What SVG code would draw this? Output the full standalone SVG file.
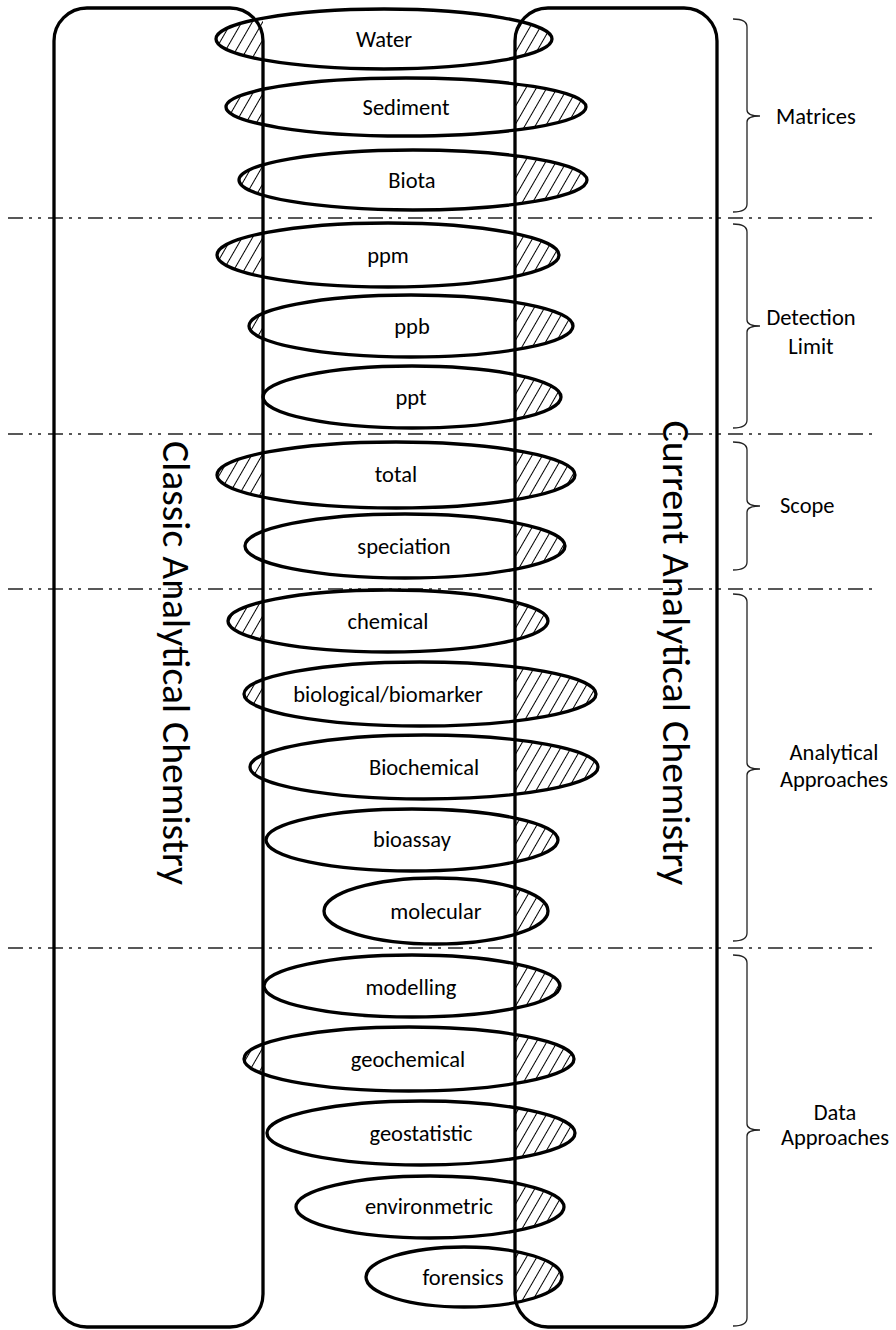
<svg xmlns="http://www.w3.org/2000/svg" width="896" height="1330" viewBox="0 0 896 1330">
  <style>
    .frame { fill: none; stroke: #000; stroke-width: 3.3; }
    .ring { fill: none; stroke: #000; stroke-width: 3.3; }
    .hatch { fill: url(#hatch); stroke: none; }
    .label { font-family: Carlito, Lato, "Liberation Sans", sans-serif; font-size: 22.5px; fill: #000; text-anchor: middle; dominant-baseline: central; }
    .side { font-family: Carlito, Lato, "Liberation Sans", sans-serif; font-size: 22.5px; fill: #000; dominant-baseline: central; }
    .title { font-family: Carlito, Lato, "Liberation Sans", sans-serif; font-weight: 300; font-size: 38px; fill: #000; text-anchor: middle; }
    .sep { fill: none; stroke: #222; stroke-width: 1.6; stroke-dasharray: 15 6 3 6 3 7; }
    .brace { fill: none; stroke: #222; stroke-width: 1.3; }
  </style>
  <defs>
    <pattern id="hatch" width="9" height="9" patternUnits="userSpaceOnUse" patternTransform="rotate(30)">
      <line x1="4.5" y1="0" x2="4.5" y2="9" stroke="#000" stroke-width="1"/>
    </pattern>
    <clipPath id="clip-left"><rect x="0" y="0" width="263" height="1330"/></clipPath>
    <clipPath id="clip-right"><rect x="515" y="0" width="381" height="1330"/></clipPath>
  </defs>
  <rect width="896" height="1330" fill="#fff"/>

  <!-- section separators -->
  <g id="separators">
    <line class="sep" x1="8" y1="218" x2="872" y2="218"/>
    <line class="sep" x1="8" y1="434" x2="872" y2="434"/>
    <line class="sep" x1="8" y1="589" x2="872" y2="589"/>
    <line class="sep" x1="8" y1="948" x2="872" y2="948"/>
  </g>

  <!-- the two columns -->
  <g id="classic">
    <rect class="frame" x="54" y="8" width="209" height="1319" rx="33"/>
    <text class="title" transform="translate(163,663) rotate(90)" textLength="444" lengthAdjust="spacingAndGlyphs">Classic Analytical Chemistry</text>
  </g>
  <g id="current">
    <rect class="frame" x="515" y="8" width="202" height="1319" rx="33"/>
    <text class="title" transform="translate(663,653) rotate(90)" textLength="465" lengthAdjust="spacingAndGlyphs">Current Analytical Chemistry</text>
  </g>

  <!-- topics: hatched parts lie outside the left column and inside the right column -->
  <g id="water">
    <ellipse class="hatch" clip-path="url(#clip-left)" cx="384" cy="39" rx="168" ry="30"/>
    <ellipse class="hatch" clip-path="url(#clip-right)" cx="384" cy="39" rx="168" ry="30"/>
    <ellipse class="ring" cx="384" cy="39" rx="168" ry="30"/>
    <text class="label" x="384" y="39">Water</text>
  </g>
  <g id="sediment">
    <ellipse class="hatch" clip-path="url(#clip-left)" cx="406" cy="107" rx="180" ry="29"/>
    <ellipse class="hatch" clip-path="url(#clip-right)" cx="406" cy="107" rx="180" ry="29"/>
    <ellipse class="ring" cx="406" cy="107" rx="180" ry="29"/>
    <text class="label" x="406" y="107">Sediment</text>
  </g>
  <g id="biota">
    <ellipse class="hatch" clip-path="url(#clip-left)" cx="413" cy="180" rx="174" ry="30"/>
    <ellipse class="hatch" clip-path="url(#clip-right)" cx="413" cy="180" rx="174" ry="30"/>
    <ellipse class="ring" cx="413" cy="180" rx="174" ry="30"/>
    <text class="label" x="412" y="180">Biota</text>
  </g>
  <g id="ppm">
    <ellipse class="hatch" clip-path="url(#clip-left)" cx="388" cy="255" rx="171" ry="32"/>
    <ellipse class="hatch" clip-path="url(#clip-right)" cx="388" cy="255" rx="171" ry="32"/>
    <ellipse class="ring" cx="388" cy="255" rx="171" ry="32"/>
    <text class="label" x="388" y="255">ppm</text>
  </g>
  <g id="ppb">
    <ellipse class="hatch" clip-path="url(#clip-left)" cx="411" cy="326" rx="162" ry="31"/>
    <ellipse class="hatch" clip-path="url(#clip-right)" cx="411" cy="326" rx="162" ry="31"/>
    <ellipse class="ring" cx="411" cy="326" rx="162" ry="31"/>
    <text class="label" x="412" y="326">ppb</text>
  </g>
  <g id="ppt">
    <ellipse class="hatch" clip-path="url(#clip-right)" cx="412" cy="397" rx="149" ry="31"/>
    <ellipse class="ring" cx="412" cy="397" rx="149" ry="31"/>
    <text class="label" x="411" y="397">ppt</text>
  </g>
  <g id="total">
    <ellipse class="hatch" clip-path="url(#clip-left)" cx="396" cy="475" rx="179" ry="33"/>
    <ellipse class="hatch" clip-path="url(#clip-right)" cx="396" cy="475" rx="179" ry="33"/>
    <ellipse class="ring" cx="396" cy="475" rx="179" ry="33"/>
    <text class="label" x="396" y="474">total</text>
  </g>
  <g id="speciation">
    <ellipse class="hatch" clip-path="url(#clip-right)" cx="405" cy="546" rx="160" ry="32"/>
    <ellipse class="ring" cx="405" cy="546" rx="160" ry="32"/>
    <text class="label" x="404" y="546">speciation</text>
  </g>
  <g id="chemical">
    <ellipse class="hatch" clip-path="url(#clip-left)" cx="388" cy="621" rx="160" ry="31"/>
    <ellipse class="hatch" clip-path="url(#clip-right)" cx="388" cy="621" rx="160" ry="31"/>
    <ellipse class="ring" cx="388" cy="621" rx="160" ry="31"/>
    <text class="label" x="388" y="621">chemical</text>
  </g>
  <g id="biological">
    <ellipse class="hatch" clip-path="url(#clip-left)" cx="420" cy="694" rx="176" ry="32"/>
    <ellipse class="hatch" clip-path="url(#clip-right)" cx="420" cy="694" rx="176" ry="32"/>
    <ellipse class="ring" cx="420" cy="694" rx="176" ry="32"/>
    <text class="label" x="388" y="694">biological/biomarker</text>
  </g>
  <g id="biochemical">
    <ellipse class="hatch" clip-path="url(#clip-left)" cx="424" cy="767" rx="174" ry="32"/>
    <ellipse class="hatch" clip-path="url(#clip-right)" cx="424" cy="767" rx="174" ry="32"/>
    <ellipse class="ring" cx="424" cy="767" rx="174" ry="32"/>
    <text class="label" x="424" y="767">Biochemical</text>
  </g>
  <g id="bioassay">
    <ellipse class="hatch" clip-path="url(#clip-right)" cx="412" cy="840" rx="146" ry="31"/>
    <ellipse class="ring" cx="412" cy="840" rx="146" ry="31"/>
    <text class="label" x="412" y="839">bioassay</text>
  </g>
  <g id="molecular">
    <ellipse class="hatch" clip-path="url(#clip-right)" cx="436" cy="911" rx="112" ry="33"/>
    <ellipse class="ring" cx="436" cy="911" rx="112" ry="33"/>
    <text class="label" x="436" y="911">molecular</text>
  </g>
  <g id="modelling">
    <ellipse class="hatch" clip-path="url(#clip-right)" cx="412" cy="986" rx="148" ry="31"/>
    <ellipse class="ring" cx="412" cy="986" rx="148" ry="31"/>
    <text class="label" x="411" y="987">modelling</text>
  </g>
  <g id="geochemical">
    <ellipse class="hatch" clip-path="url(#clip-left)" cx="409" cy="1059" rx="165" ry="32"/>
    <ellipse class="hatch" clip-path="url(#clip-right)" cx="409" cy="1059" rx="165" ry="32"/>
    <ellipse class="ring" cx="409" cy="1059" rx="165" ry="32"/>
    <text class="label" x="408" y="1059">geochemical</text>
  </g>
  <g id="geostatistic">
    <ellipse class="hatch" clip-path="url(#clip-right)" cx="421" cy="1133" rx="154" ry="32"/>
    <ellipse class="ring" cx="421" cy="1133" rx="154" ry="32"/>
    <text class="label" x="421" y="1133">geostatistic</text>
  </g>
  <g id="environmetric">
    <ellipse class="hatch" clip-path="url(#clip-right)" cx="430" cy="1207" rx="134" ry="31"/>
    <ellipse class="ring" cx="430" cy="1207" rx="134" ry="31"/>
    <text class="label" x="429" y="1206">environmetric</text>
  </g>
  <g id="forensics">
    <ellipse class="hatch" clip-path="url(#clip-right)" cx="464" cy="1277" rx="98" ry="30"/>
    <ellipse class="ring" cx="464" cy="1277" rx="98" ry="30"/>
    <text class="label" x="463" y="1277">forensics</text>
  </g>

  <!-- category braces -->
  <g id="matrices">
    <path class="brace" d="M733,19 Q747,19 747,27 L747,110 Q747,116 760,116 Q747,116 747,122 L747,204 Q747,212 733,212"/>
    <text class="side" x="776" y="116">Matrices</text>
  </g>
  <g id="detection-limit">
    <path class="brace" d="M733,224 Q747,224 747,232 L747,320 Q747,326 760,326 Q747,326 747,332 L747,420 Q747,428 733,428"/>
    <text class="label" x="811" y="317">Detection</text>
    <text class="label" x="811" y="346">Limit</text>
  </g>
  <g id="scope">
    <path class="brace" d="M733,442 Q747,442 747,450 L747,500 Q747,506 760,506 Q747,506 747,512 L747,562 Q747,570 733,570"/>
    <text class="side" x="780" y="505">Scope</text>
  </g>
  <g id="analytical-approaches">
    <path class="brace" d="M733,594 Q747,594 747,602 L747,763 Q747,769 760,769 Q747,769 747,775 L747,933 Q747,941 733,941"/>
    <text class="label" x="834" y="752">Analytical</text>
    <text class="label" x="834" y="779">Approaches</text>
  </g>
  <g id="data-approaches">
    <path class="brace" d="M733,955 Q747,955 747,963 L747,1124 Q747,1130 760,1130 Q747,1130 747,1136 L747,1318 Q747,1326 733,1326"/>
    <text class="label" x="835" y="1112">Data</text>
    <text class="label" x="835" y="1137">Approaches</text>
  </g>
</svg>
